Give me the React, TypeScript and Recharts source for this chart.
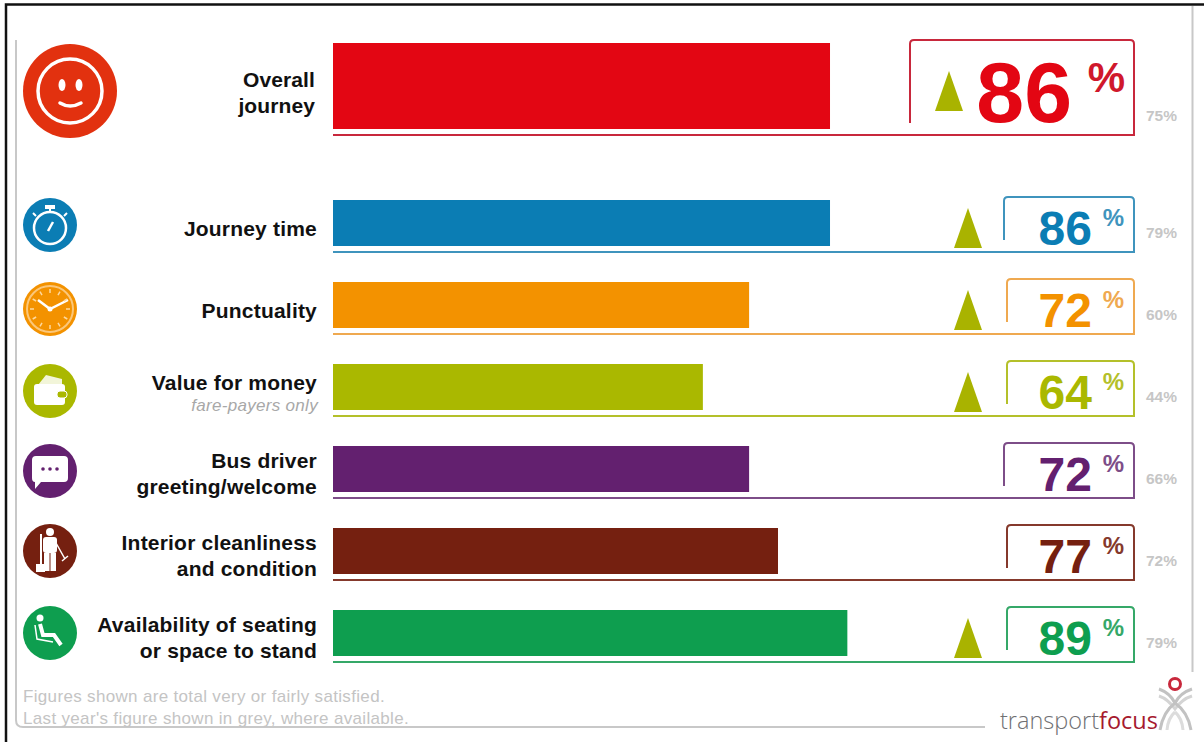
import { BarChart, Bar, XAxis, YAxis, LabelList } from 'recharts';

// overall score on top, the six detail rows under it
const overallLabel = [['Overall', 'journey']];
const overallValue = [86];
const overallLastYear = [75];
const overallUp = [true];

const rowLabels = [
  ['Journey time'],
  ['Punctuality'],
  ['Value for money'],
  ['Bus driver', 'greeting/welcome'],
  ['Interior cleanliness', 'and condition'],
  ['Availability of seating', 'or space to stand'],
];
const rowValues = [86, 72, 64, 72, 77, 89];
const rowLastYear = [79, 60, 44, 66, 72, 79];
const rowUp = [true, true, true, false, false, true];

const overallColor = '#e30613';
const overallFrame = '#c8283c';
const overallIcon = '#e2310f';
const rowColors = ['#0b7db4', '#f39200', '#aab800', '#63206f', '#752010', '#0e9e4f'];
const rowFrames = ['#3f94bd', '#efa950', '#b4c02a', '#7d4d88', '#85392c', '#35a868'];
const rowBoxLeft = [1004, 1007, 1007, 1004, 1007, 1007];
const iconOffset = [2, 4, 4, 2, 0, 0];
const clockTicks = [30, 60, 120, 150, 210, 240, 300, 330, 0, 90, 180, 270];
const triangleColor = '#a9b300';
const greyText = '#c6c6c6';

const FONT = '"Liberation Sans", Arial, sans-serif';
const WIDTH = 1204;
const PLOT_LEFT = 333;
const FRAME_RIGHT = 1134;

const toRows = (labels: string[][], values: number[], last: number[], up: boolean[]) =>
  labels.map((label, i) => ({ key: label.join(' '), value: values[i], last: last[i], up: up[i], index: i }));

const overallData = toRows(overallLabel, overallValue, overallLastYear, overallUp);
const rowData = toRows(rowLabels, rowValues, rowLastYear, rowUp);

const Triangle = ({ cx, base, w, h }: any) => (
  <polygon points={`${cx},${base - h} ${cx + w / 2},${base} ${cx - w / 2},${base}`} fill={triangleColor} />
);

const framePath = (left: number, top: number, bottom: number, sideEnd: number) =>
  `M${left} ${sideEnd} V${top + 4} Q${left} ${top} ${left + 4} ${top} H${FRAME_RIGHT - 4} Q${FRAME_RIGHT} ${top} ${FRAME_RIGHT} ${top + 4} V${bottom} H${PLOT_LEFT}`;

const OverallBar = ({ x, y, width, height, payload }: any) => (
  <g>
    <rect x={x} y={y} width={width} height={height} fill={overallColor} />
    <path d={framePath(910, y - 3, y + height + 6, y + height - 6)} fill="none" stroke={overallFrame} strokeWidth={2} />
    {payload.up && <Triangle cx={949} base={y + height - 18} w={28} h={40} />}
  </g>
);

const RowBar = ({ x, y, width, height, payload }: any) => (
  <g>
    <rect x={x} y={y} width={width} height={height} fill={rowColors[payload.index]} />
    <path
      d={framePath(rowBoxLeft[payload.index], y - 3, y + height + 6, y + height - 6)}
      fill="none"
      stroke={rowFrames[payload.index]}
      strokeWidth={2}
    />
    {payload.up && <Triangle cx={968} base={y + height + 2} w={28} h={40} />}
  </g>
);

const OverallValue = ({ y, height, value }: any) => (
  <g fontFamily={FONT} fontWeight="bold" fill={overallColor}>
    <text x={1072} y={y + height - 7} textAnchor="end" fontSize={86}>{value}</text>
    <text x={1125} y={y + 49} textAnchor="end" fontSize={42} fill="#d0182c">%</text>
  </g>
);

const OverallLast = ({ y, height, value }: any) => (
  <text x={1146} y={y + height - 8} fontFamily={FONT} fontWeight="bold" fontSize={15.5} fill={greyText}>{value}%</text>
);

const RowValue = ({ y, height, value, index }: any) => (
  <g fontFamily={FONT} fontWeight="bold" fill={rowColors[index]}>
    <text x={1092} y={y + height - 1} textAnchor="end" fontSize={48}>{value}</text>
    <text x={1124} y={y + 26} textAnchor="end" fontSize={24} fill={rowFrames[index]}>%</text>
  </g>
);

const RowLast = ({ y, height, value }: any) => (
  <text x={1146} y={y + height - 8} fontFamily={FONT} fontWeight="bold" fontSize={15.5} fill={greyText}>{value}%</text>
);

const RowIcon = ({ cx, cy, r, kind, color }: any) => {
  const g = { fill: 'none', stroke: '#fff', strokeWidth: 2 };
  return (
    <g>
      <circle cx={cx} cy={cy} r={r} fill={color} />
      {kind === 0 && (
        <g {...g}>
          <circle cx={cx} cy={cy + 3} r={16} strokeWidth={2.5} />
          <path d={`M${cx - 2} ${cy + 6} L${cx + 3} ${cy - 3}`} strokeWidth={2.5} />
          <path d={`M${cx - 5} ${cy - 18} H${cx + 5}`} strokeWidth={4} />
          <path d={`M${cx} ${cy - 18} V${cy - 13}`} />
          <path d={`M${cx - 17} ${cy - 12} L${cx - 14} ${cy - 9} M${cx + 17} ${cy - 12} L${cx + 14} ${cy - 9}`} />
        </g>
      )}
      {kind === 1 && (
        <g {...g}>
          <circle cx={cx} cy={cy} r={23} stroke="#fbc77a" />
          <path d={`M${cx - 12} ${cy - 9} L${cx} ${cy} L${cx + 18} ${cy - 9}`} strokeWidth={2.5} />
          <circle cx={cx} cy={cy} r={2.5} fill="#fff" stroke="none" />
          {clockTicks.map((deg) => (
            <path
              key={deg}
              d={`M${cx} ${cy - 20} V${cy - 16}`}
              transform={`rotate(${deg} ${cx} ${cy})`}
              strokeWidth={1.5}
              stroke="#fdd9a0"
            />
          ))}
        </g>
      )}
      {kind === 2 && (
        <g>
          <path d={`M${cx - 12} ${cy - 6} L${cx - 4} ${cy - 16} L${cx + 12} ${cy - 12} L${cx + 12} ${cy - 6} Z`} fill="#fff" opacity={0.85} />
          <rect x={cx - 16} y={cy - 7} width={31} height={21} rx={3} fill="#fff" />
          <rect x={cx + 7} y={cy} width={10} height={7} rx={3} fill={color} stroke="#fff" strokeWidth={1} />
        </g>
      )}
      {kind === 3 && (
        <g>
          <path
            d={`M${cx - 14} ${cy - 15} H${cx + 14} Q${cx + 18} ${cy - 15} ${cx + 18} ${cy - 11} V${cy + 7} Q${cx + 18} ${cy + 11} ${cx + 14} ${cy + 11} H${cx - 9} L${cx - 15} ${cy + 18} V${cy + 11} Q${cx - 18} ${cy + 11} ${cx - 18} ${cy + 7} V${cy - 11} Q${cx - 18} ${cy - 15} ${cx - 14} ${cy - 15} Z`}
            fill="#fff"
          />
          {[-7, 0, 7].map((d) => (
            <circle key={d} cx={cx + d} cy={cy - 2} r={1.8} fill={color} />
          ))}
        </g>
      )}
      {kind === 4 && (
        <g fill="#fff">
          <circle cx={cx} cy={cy - 19} r={4} />
          <rect x={cx - 7} y={cy - 14} width={14} height={16} rx={3} />
          <rect x={cx - 6} y={cy + 2} width={5.5} height={18} />
          <rect x={cx + 0.5} y={cy + 2} width={5.5} height={18} />
          <path d={`M${cx - 9} ${cy - 17} V${cy + 13}`} stroke="#fff" strokeWidth={2} />
          <rect x={cx - 14} y={cy + 13} width={9} height={8} />
          <path d={`M${cx + 6} ${cy - 8} L${cx + 15} ${cy + 8} M${cx + 12} ${cy + 10} L${cx + 18} ${cy + 5}`} stroke="#fff" strokeWidth={1.5} />
        </g>
      )}
      {kind === 5 && (
        <g>
          <circle cx={cx - 10} cy={cy - 15} r={3.5} fill="#fff" />
          <path d={`M${cx - 10} ${cy - 9} L${cx - 7} ${cy + 2} L${cx + 4} ${cy + 2} L${cx + 11} ${cy + 12}`} fill="none" stroke="#fff" strokeWidth={4} />
          <path d={`M${cx - 15} ${cy - 8} L${cx - 13} ${cy + 6} L${cx + 3} ${cy + 9}`} fill="none" stroke="#fff" strokeWidth={1.5} />
        </g>
      )}
    </g>
  );
};

const OverallTick = () => (
  <g>
    <circle cx={70} cy={91} r={47} fill={overallIcon} />
    <circle cx={70} cy={91} r={32} fill="none" stroke="#fff" strokeWidth={3.5} />
    <ellipse cx={62} cy={85} rx={3.5} ry={6} fill="#fff" />
    <ellipse cx={79} cy={85} rx={3.5} ry={6} fill="#fff" />
    <path d="M60 103 Q70 109 81 103" fill="none" stroke="#fff" strokeWidth={3.5} strokeLinecap="round" />
    <text fontFamily={FONT} fontWeight="bold" fontSize={21} letterSpacing={0.1} textAnchor="end" fill="#111">
      <tspan x={315} y={87}>{overallLabel[0][0]}</tspan>
      <tspan x={315} y={113}>{overallLabel[0][1]}</tspan>
    </text>
  </g>
);

const RowTick = ({ y, index }: any) => {
  const lines = rowLabels[index];
  const two = lines.length === 2;
  return (
    <g>
      <RowIcon cx={50} cy={y + iconOffset[index]} r={27} kind={index} color={rowColors[index]} />
      <text fontFamily={FONT} fontWeight="bold" fontSize={21} letterSpacing={0.2} textAnchor="end" fill="#111">
        {lines.map((line: string, i: number) => (
          <tspan key={line} x={317} y={two ? y - 1 + i * 25.5 : index === 2 ? y + 3 : y + 13}>{line}</tspan>
        ))}
      </text>
      {index === 2 && (
        <text x={318} y={y + 24} fontFamily={FONT} fontStyle="italic" fontSize={17} letterSpacing={0.3} textAnchor="end" fill="#a8a8a8">
          fare-payers only
        </text>
      )}
    </g>
  );
};

export default function App() {
  return (
    <div style={{ position: 'absolute', left: 0, top: 0, width: WIDTH, height: 742, background: '#fff', overflow: 'hidden' }}>
      <svg width={WIDTH} height={742} style={{ position: 'absolute', left: 0, top: 0 }}>
        <path d="M6 742 V4.5 H1204" fill="none" stroke="#111" strokeWidth={2.5} />
        <path d="M16 40 V720 Q16 727 23 727 H985" fill="none" stroke="#c8c8c8" strokeWidth={2} />
        <path d="M1192.5 6 V672" stroke="#c8c8c8" strokeWidth={2} />
        <g fontFamily={FONT} fontSize={17} letterSpacing={0.33} fill="#c4c4c4">
          <text x={23} y={702}>Figures shown are total very or fairly satisfied.</text>
          <text x={23} y={724}>Last year's figure shown in grey, where available.</text>
        </g>
        <text x={1000} y={729} fontFamily='"Open Sans", sans-serif' fontWeight={300} fontSize={23.5} fill="#6f7073">
          transport<tspan fill="#a6192e" fontWeight={400}>focus</tspan>
        </text>
        <circle cx={1175} cy={684} r={5.5} fill="none" stroke="#c8283c" strokeWidth={3} />
        <g fill="none" stroke="#c2c2c2" strokeWidth={3}>
          <path d="M1159 689 Q1170 693 1175 703 Q1180 693 1192 689" />
          <path d="M1159 696 Q1168 699 1175 709 Q1182 699 1192 696" stroke="#d4d4d4" />
          <path d="M1175 703 Q1163 712 1160 730" />
          <path d="M1175 703 Q1188 712 1191 730" />
          <path d="M1175 712 Q1168 718 1167 730" stroke="#dcdcdc" />
          <path d="M1175 712 Q1182 718 1183 730" stroke="#dcdcdc" />
        </g>
      </svg>

      <div style={{ position: 'absolute', left: 0, top: 0 }}>
        <BarChart
          width={WIDTH}
          height={172}
          data={overallData}
          layout="vertical"
          margin={{ top: 30, right: WIDTH - FRAME_RIGHT, bottom: 30, left: 0 }}
        >
          <XAxis type="number" domain={[0, 138.6]} hide />
          <YAxis type="category" dataKey="key" width={PLOT_LEFT} axisLine={false} tickLine={false} tick={<OverallTick />} interval={0} />
          <Bar dataKey="value" isAnimationActive={false} barSize={86} shape={<OverallBar />}>
            <LabelList dataKey="value" content={<OverallValue />} />
            <LabelList dataKey="last" content={<OverallLast />} />
          </Bar>
        </BarChart>
      </div>

      <div style={{ position: 'absolute', left: 0, top: 0 }}>
        <BarChart
          width={WIDTH}
          height={742}
          data={rowData}
          layout="vertical"
          margin={{ top: 182, right: WIDTH - FRAME_RIGHT, bottom: 68, left: 0 }}
        >
          <XAxis type="number" domain={[0, 138.6]} hide />
          <YAxis type="category" dataKey="key" width={PLOT_LEFT} axisLine={false} tickLine={false} tick={<RowTick />} interval={0} />
          <Bar dataKey="value" isAnimationActive={false} barSize={46} shape={<RowBar />}>
            <LabelList dataKey="value" content={<RowValue />} />
            <LabelList dataKey="last" content={<RowLast />} />
          </Bar>
        </BarChart>
      </div>
    </div>
  );
}
